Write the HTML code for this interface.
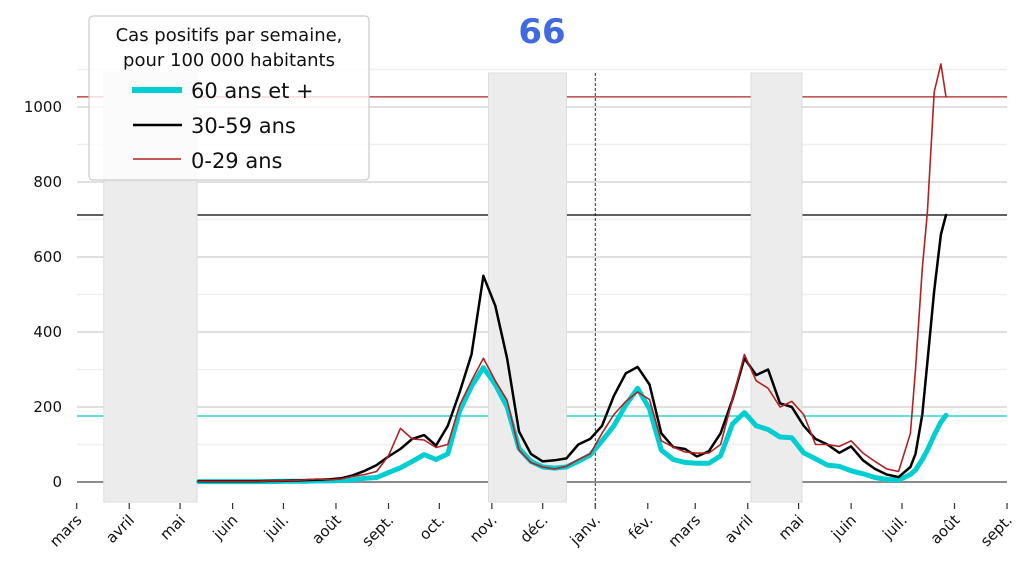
<!DOCTYPE html>
<html><head><meta charset="utf-8"><style>
html,body{margin:0;padding:0;background:#fff;}
svg{display:block;font-family:"DejaVu Sans","Liberation Sans",sans-serif;}
</style></head><body>
<svg id="chart" width="1035" height="580" viewBox="0 0 1035 580" xmlns="http://www.w3.org/2000/svg">
<g id="grid"></g>
<g id="shading"></g>
<g id="series"></g>
<g id="axes"></g>
<text x="542" y="43" text-anchor="middle" font-size="34" font-weight="bold" fill="#4169e1">66</text>
<g>
<rect x="89" y="16" width="280" height="164" rx="4" fill="#fff" fill-opacity="0.8" stroke="#ccc" stroke-width="1.2"/>
<text x="229" y="41" text-anchor="middle" font-size="18" fill="#111">Cas positifs par semaine,</text>
<text x="229" y="66" text-anchor="middle" font-size="18" fill="#111">pour 100 000 habitants</text>
<line x1="132" y1="90" x2="182" y2="90" stroke="#00ced1" stroke-width="6"/>
<text x="191" y="98" font-size="21" fill="#111">60 ans et +</text>
<line x1="133" y1="125" x2="182" y2="125" stroke="#000" stroke-width="2.5"/>
<text x="191" y="133" font-size="21" fill="#111">30-59 ans</text>
<line x1="133" y1="159" x2="181" y2="159" stroke="#b22222" stroke-width="1.6"/>
<text x="191" y="168" font-size="21" fill="#111">0-29 ans</text>
</g>
</svg>
<script>
// days since 2020-03-01
const days = [72,79,86,93,100,107,114,121,128,135,142,149,156,163,170,177,184,191,198,205,212,219,226,233,240,247,254,261,268,275,282,289,296,303,310,317,324,331,338,345,352,359,366,373,380,387,394,401,408,415,422,429,436,443,450,457,464,471,478,485,492,495,499,502,506,510,513];
const age30_59 = [2,2,2,2,2,2,3,3,4,5,6,7,10,18,30,45,68,88,115,125,97,150,240,340,550,470,330,135,75,55,58,63,100,115,150,230,290,307,260,130,93,88,68,82,130,220,330,285,300,210,200,150,115,100,78,95,58,35,20,13,40,75,180,320,510,660,712];
const age0_29 = [2,2,2,2,2,2,3,3,4,6,8,6,8,15,20,28,70,143,115,112,92,100,205,270,330,270,218,85,52,40,35,42,60,75,130,180,215,240,220,110,93,80,77,77,100,220,340,270,250,200,215,180,100,100,95,110,77,55,35,28,130,300,570,720,1040,1115,1027];
const age60plus = [1,1,1,1,1,1,1,2,2,2,3,3,4,6,10,12,25,38,55,73,60,75,190,255,305,260,200,90,55,40,37,40,55,72,110,150,205,250,195,85,60,52,50,50,70,155,185,150,140,120,118,78,62,45,42,30,22,12,7,5,20,32,60,85,125,160,178];
const refLines = [{v:1027,c:'#b22222',n:'ref-line-0-29'},{v:712,c:'#000',n:'ref-line-30-59'},{v:176,c:'#00ced1',n:'ref-line-60plus'}];
const yTicks = [0,200,400,600,800,1000];
const monthLabels = ['mars','avril','mai','juin','juil.','août','sept.','oct.','nov.','déc.','janv.','fév.','mars','avril','mai','juin','juil.','août','sept.'];
const monthDays = [0,31,61,92,122,153,184,214,245,275,306,337,365,396,426,457,487,518,549];
const shadedPeriods = [[16,71],[243,289],[398,428]];
const newYearDay = 306;

const NS='http://www.w3.org/2000/svg';
const X0=76.7, PX=1.6946, Y0=482, PY=0.375;
const xs=d=>X0+d*PX, ys=v=>Y0-v*PY;
function mk(tag,attrs,parent){const e=document.createElementNS(NS,tag);for(const k in attrs)e.setAttribute(k,attrs[k]);parent.appendChild(e);return e;}
const grid=document.getElementById('grid'),shade=document.getElementById('shading'),ser=document.getElementById('series'),axes=document.getElementById('axes');
for(let v=100;v<=1100;v+=100){
  if(v%200===0)continue;
  const l=mk('line',{x1:77,x2:1007,y1:ys(v),y2:ys(v),stroke:'#efefef','stroke-width':1.5},grid);
  
  
}
yTicks.forEach(v=>{
  const l=mk('line',{x1:77,x2:1007,y1:ys(v),y2:ys(v),stroke:v===0?'#8c8c8c':'#d6d6d6','stroke-width':v===0?2:1.5},grid);
  
  
  const t=mk('text',{x:62,y:ys(v)+5,'text-anchor':'end','font-size':15,fill:'#111'},axes);
  t.textContent=v;
  
  
});
shadedPeriods.forEach(p=>{
  const r=mk('rect',{x:xs(p[0]),y:73,width:xs(p[1])-xs(p[0]),height:429,fill:'#ececec',stroke:'#dcdcdc','stroke-width':1},shade);
  
  
});
const nl=mk('line',{x1:xs(newYearDay),x2:xs(newYearDay),y1:73,y2:505,stroke:'#000','stroke-width':0.8,'stroke-dasharray':'3,2'},shade);


refLines.forEach(r=>{
  const l=mk('line',{x1:77,x2:1007,y1:ys(r.v),y2:ys(r.v),stroke:r.c,'stroke-width':1.3},grid);
  
  
});
function path(vals,color,w,name){
  const d=vals.map((v,i)=>(i?'L':'M')+xs(days[i]).toFixed(1)+','+ys(v).toFixed(1)).join('');
  const p=mk('path',{d:d,fill:'none',stroke:color,'stroke-width':w,'stroke-linejoin':'round','stroke-linecap':'round'},ser);
  
  
}
path(age60plus,'#00ced1',5,'line-60plus');
path(age30_59,'#000',2.5,'line-30-59');
path(age0_29,'#b22222',1.6,'line-0-29');
monthDays.forEach((d,i)=>{
  const x=xs(d);
  const t=mk('line',{x1:x,x2:x,y1:503,y2:509,stroke:'#333','stroke-width':1.2},axes);
  
  
  const tx=mk('text',{x:x+6,y:521,'text-anchor':'end','font-size':15,fill:'#111',transform:`rotate(-45 ${x+6} 521)`},axes);
  tx.textContent=monthLabels[i];
  
  
});
</script>
</body></html>
